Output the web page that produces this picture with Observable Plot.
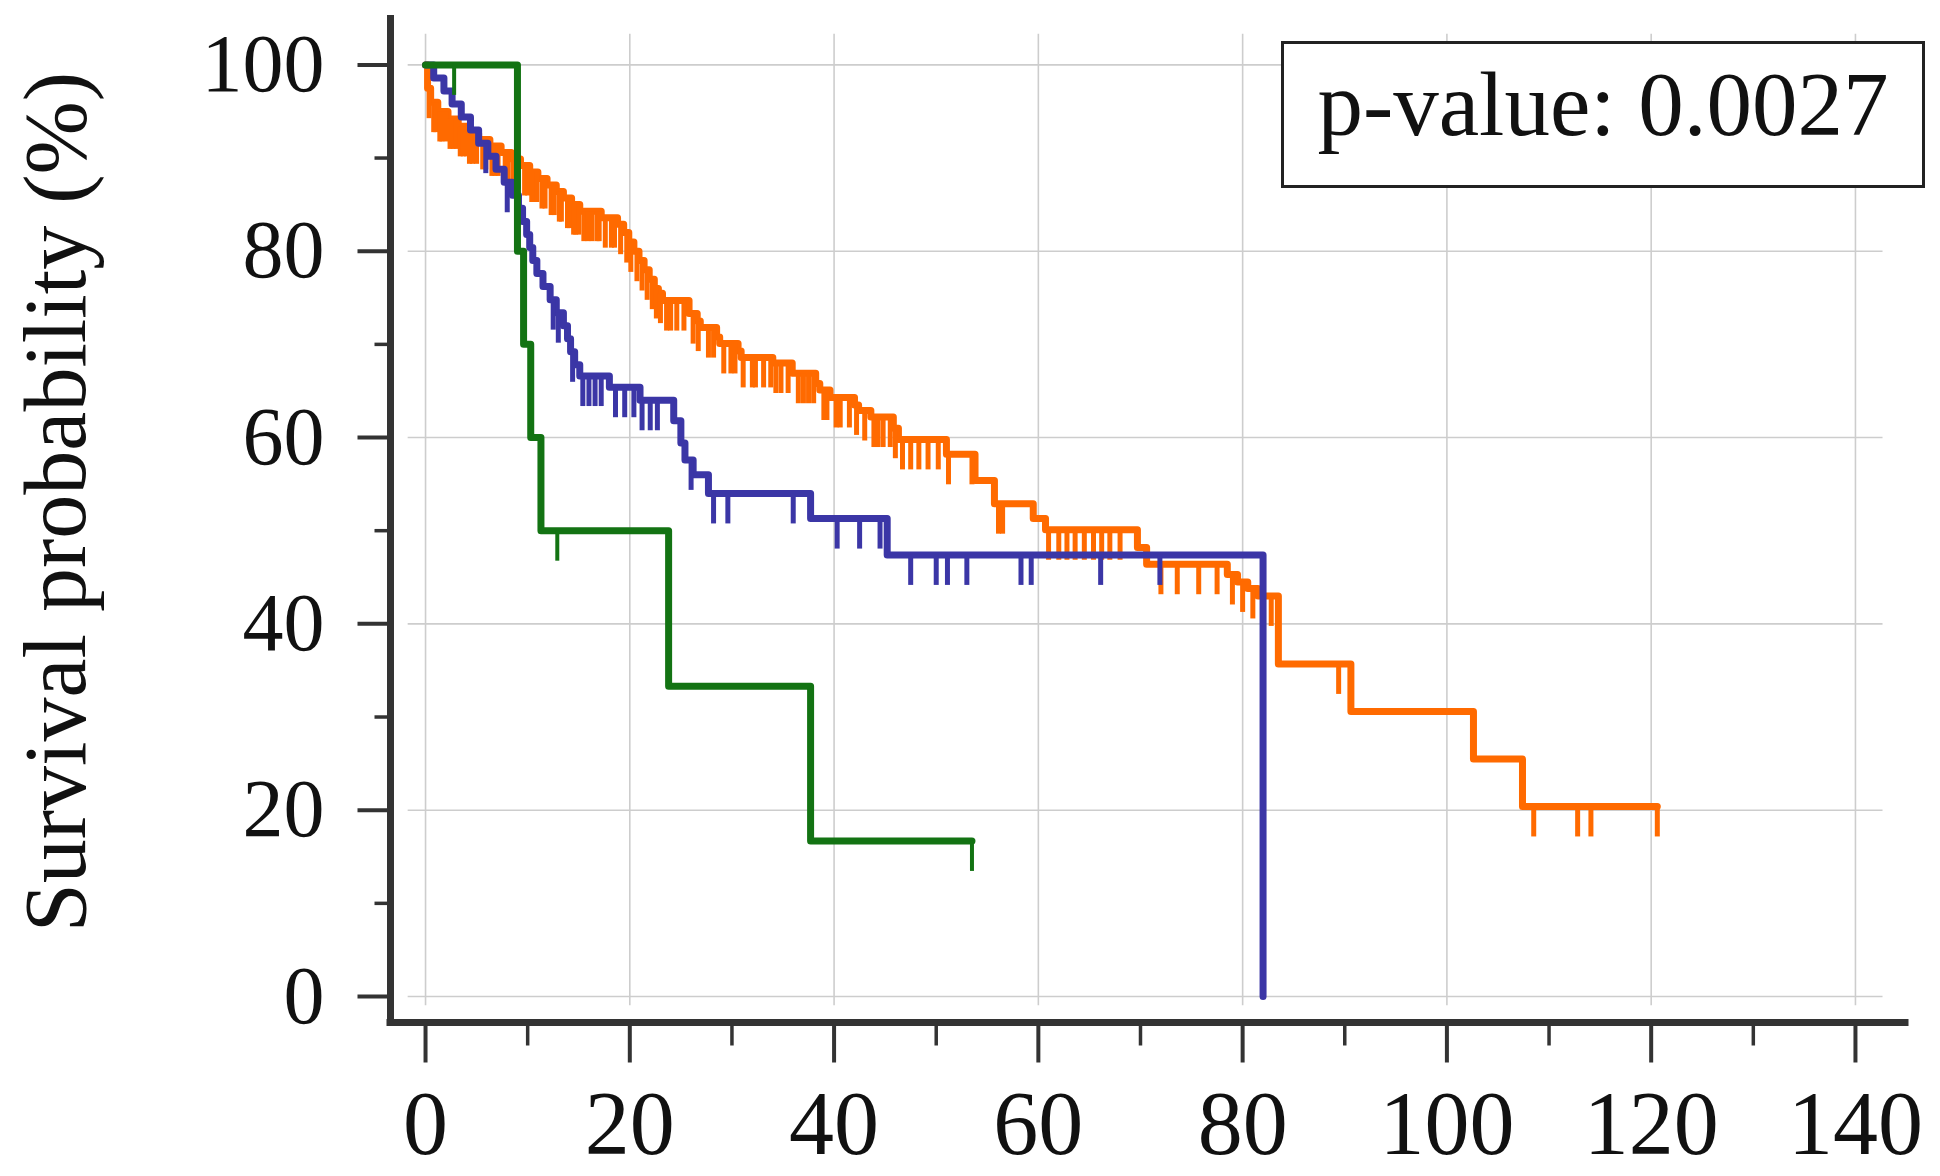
<!DOCTYPE html>
<html><head><meta charset="utf-8">
<script src="https://cdn.jsdelivr.net/npm/d3@7"></script>
<script src="https://cdn.jsdelivr.net/npm/@observablehq/plot@0.6"></script>
<style>
html,body{margin:0;padding:0;background:#fff;}
#wrap{position:relative;width:1940px;height:1176px;overflow:hidden;}
#wrap svg{position:absolute;left:0;top:0;}
#pbox{position:absolute;left:1281px;top:41px;width:644px;height:147px;box-sizing:border-box;border:3px solid #222;background:#fff;font-family:"Liberation Serif",serif;font-size:91px;line-height:90px;padding-top:16px;text-align:center;color:#111;white-space:nowrap;}
</style></head><body><div id="wrap"></div>
<script>
// ---- data ----
const xTicks = [0, 20, 40, 60, 80, 100, 120, 140];
const xMinorTicks = [10, 30, 50, 70, 90, 110, 130];
const yTicks = [0, 20, 40, 60, 80, 100];
const yMinorTicks = [10, 30, 50, 70, 90];
const yLabel = "Survival probability (%)";
const pValueText = "p-value: 0.0027";

// [time, survival %]
const orangeSteps = [[0,100],[0.2,97.5],[0.5,96.0],[1.2,95.0],[2.2,94.2],[3.2,93.4],[4.2,92.6],[5.2,92.0],[6.3,91.3],[7.4,90.6],[8.4,89.9],[9.3,89.2],[10.2,88.5],[11.0,87.8],[11.9,87.1],[12.8,86.4],[13.5,85.7],[14.3,85.0],[15.1,84.3],[17.2,83.6],[18.8,82.9],[19.4,82.0],[19.9,81.0],[20.4,80.0],[20.9,79.0],[21.4,78.0],[21.9,77.0],[22.4,76.0],[22.8,75.5],[23.2,74.7],[25.8,73.3],[26.6,72.5],[26.9,71.8],[28.5,70.8],[28.8,70.1],[30.6,69.3],[30.9,68.6],[34.0,68.0],[35.9,66.9],[38.2,65.8],[38.6,65.1],[39.6,64.3],[42.0,63.5],[42.4,62.9],[43.6,62.2],[45.8,61.0],[46.3,59.8],[51.0,58.2],[53.8,55.4],[55.7,52.9],[59.5,51.3],[60.7,50.1],[69.7,48.2],[70.6,46.4],[78.5,45.3],[79.5,44.5],[80.5,43.8],[81.5,43.0],[83.5,35.7],[90.6,30.6],[102.6,25.5],[107.4,20.4],[120.6,20.4]];
const orangeCensor = [[0.35,97.5],[0.8,96.0],[1.0,96.0],[1.4,95.0],[1.6,95.0],[2.0,95.0],[2.4,94.2],[2.7,94.2],[3.0,94.2],[3.4,93.4],[3.7,93.4],[4.0,93.4],[4.3,92.6],[4.6,92.6],[5.0,92.6],[5.6,92.0],[5.9,92.0],[6.5,91.3],[6.8,91.3],[7.1,91.3],[7.8,90.6],[8.1,90.6],[8.6,89.9],[8.8,89.9],[9.1,89.9],[9.7,89.2],[10.0,89.2],[10.4,88.5],[10.6,88.5],[10.9,88.5],[11.4,87.8],[11.7,87.8],[12.3,87.1],[12.6,87.1],[13.1,86.4],[13.3,86.4],[13.9,85.7],[14.1,85.7],[14.5,85.0],[14.7,85.0],[15.0,85.0],[15.5,84.3],[15.9,84.3],[16.3,84.3],[16.8,84.3],[17.0,84.3],[17.6,83.6],[18.2,83.6],[18.5,83.6],[19.1,82.9],[19.7,82.0],[20.1,81.0],[20.7,80.0],[21.2,79.0],[21.7,78.0],[22.2,77.0],[22.6,76.0],[23.0,75.5],[23.6,74.7],[24.0,74.7],[24.6,74.7],[25.3,74.7],[26.2,73.3],[26.7,72.5],[27.7,71.8],[28.2,71.8],[29.2,70.1],[29.9,70.1],[30.3,70.1],[31.1,68.6],[32.0,68.6],[32.3,68.6],[33.1,68.6],[33.8,68.6],[34.3,68.0],[34.8,68.0],[35.5,68.0],[36.5,66.9],[37.0,66.9],[37.5,66.9],[38.0,66.9],[39.0,65.1],[39.3,65.1],[40.2,64.3],[40.6,64.3],[41.5,64.3],[42.2,63.5],[43.0,62.9],[43.9,62.2],[44.3,62.2],[44.8,62.2],[45.5,62.2],[46.0,61.0],[46.7,59.8],[47.5,59.8],[48.3,59.8],[49.2,59.8],[50.2,59.8],[51.2,58.2],[53.5,58.2],[56.1,52.9],[56.5,52.9],[61.0,50.1],[62.0,50.1],[62.8,50.1],[63.6,50.1],[64.5,50.1],[65.4,50.1],[66.2,50.1],[67.0,50.1],[68.0,50.1],[72.0,46.4],[73.6,46.4],[75.7,46.4],[77.5,46.4],[79.0,45.3],[80.0,44.5],[81.0,43.8],[82.0,43.0],[82.8,43.0],[89.4,35.7],[108.5,20.4],[112.8,20.4],[114.1,20.4],[120.6,20.4]];

const blueSteps = [[0,100],[0.8,98.6],[1.8,97.2],[2.6,95.8],[3.5,94.4],[4.4,93.0],[5.2,91.6],[6.1,90.2],[6.9,88.8],[7.7,87.4],[8.5,86.0],[9.1,84.6],[9.5,83.2],[9.9,81.8],[10.2,80.4],[10.5,79.0],[10.9,77.6],[11.5,76.2],[12.2,74.8],[12.8,73.4],[13.5,72.0],[13.9,70.6],[14.2,69.2],[14.6,67.8],[15.1,66.6],[18.0,65.4],[21.0,64.0],[24.3,61.8],[25.0,59.4],[25.4,57.6],[26.2,56.0],[27.7,54.0],[37.7,51.3],[45.2,47.4],[82.0,0]];
const blueCensor = [[5.9,91.6],[8.0,87.4],[12.5,74.8],[13.0,73.4],[14.4,69.2],[15.4,66.6],[16.0,66.6],[16.6,66.6],[17.2,66.6],[18.6,65.4],[19.5,65.4],[20.4,65.4],[21.2,64.0],[22.0,64.0],[22.7,64.0],[26.0,57.6],[28.2,54.0],[29.6,54.0],[36.0,54.0],[40.3,51.3],[42.5,51.3],[44.5,51.3],[47.5,47.4],[50.0,47.4],[51.1,47.4],[53.0,47.4],[58.3,47.4],[59.3,47.4],[66.1,47.4],[71.9,47.4]];

const greenSteps = [[0,100],[9.0,80],[9.6,70],[10.3,60],[11.3,50],[23.8,33.3],[37.7,16.7],[53.5,16.7]];
const greenCensor = [[2.8,100],[12.9,50],[53.5,16.7]];

// ---- layout / style ----
const xDomain = [-3.43, 144.9];
const yDomain = [-2.79, 105.3];
const gridXExtent = [-1.7, 142.7];
const gridYExtent = [-1.0, 103.3];
const ORANGE = "#ff6a00", BLUE = "#3b36a6", GREEN = "#137313", AXIS = "#333333";
const FONT = "Liberation Serif, Times New Roman, serif";
const LINE_W = 7, TICK_W = 5;

function lineSymbol(dx, dy) {
  return {draw(ctx) { ctx.moveTo(0, 0); ctx.lineTo(dx, dy); }};
}
const censorTick = lineSymbol(0, 30);

const chart = Plot.plot({
  width: 1940,
  height: 1176,
  marginLeft: 390,
  marginRight: 35,
  marginTop: 15,
  marginBottom: 154,
  x: {domain: xDomain, axis: null},
  y: {domain: yDomain, axis: null},
  style: {background: "white", overflow: "visible"},
  marks: [
    Plot.ruleX(xTicks, {x: d => d, y1: gridYExtent[0], y2: gridYExtent[1], stroke: "#cdcdcd", strokeWidth: 1.6}),
    Plot.ruleY(yTicks, {y: d => d, x1: gridXExtent[0], x2: gridXExtent[1], stroke: "#cdcdcd", strokeWidth: 1.6}),
    // orange
    Plot.line(orangeSteps, {x: d => d[0], y: d => d[1], curve: "step-after", stroke: ORANGE, strokeWidth: LINE_W}),
    Plot.dot(orangeCensor, {x: d => d[0], y: d => d[1], r: 1, symbol: censorTick, stroke: ORANGE, fill: "none", strokeWidth: TICK_W}),
    // blue
    Plot.line(blueSteps, {x: d => d[0], y: d => d[1], curve: "step-after", stroke: BLUE, strokeWidth: LINE_W}),
    Plot.dot(blueCensor, {x: d => d[0], y: d => d[1], r: 1, symbol: censorTick, stroke: BLUE, fill: "none", strokeWidth: TICK_W}),
    // green
    Plot.line(greenSteps, {x: d => d[0], y: d => d[1], curve: "step-after", stroke: GREEN, strokeWidth: LINE_W}),
    Plot.dot(greenCensor, {x: d => d[0], y: d => d[1], r: 1, symbol: censorTick, stroke: GREEN, fill: "none", strokeWidth: 4}),
    // axes
    Plot.dot(xTicks, {x: d => d, frameAnchor: "bottom", r: 1, symbol: lineSymbol(0, 40), stroke: AXIS, fill: "none", strokeWidth: 4}),
    Plot.dot(xMinorTicks, {x: d => d, frameAnchor: "bottom", r: 1, symbol: lineSymbol(0, 23), stroke: AXIS, fill: "none", strokeWidth: 3.5}),
    Plot.dot(yTicks, {y: d => d, frameAnchor: "left", r: 1, symbol: lineSymbol(-33, 0), stroke: AXIS, fill: "none", strokeWidth: 4}),
    Plot.dot(yMinorTicks, {y: d => d, frameAnchor: "left", r: 1, symbol: lineSymbol(-16, 0), stroke: AXIS, fill: "none", strokeWidth: 3.5}),
    Plot.ruleX([xDomain[0]], {stroke: AXIS, strokeWidth: 7}),
    Plot.ruleY([yDomain[0]], {stroke: AXIS, strokeWidth: 7, strokeLinecap: "square"}),
    Plot.text(xTicks, {x: d => d, frameAnchor: "bottom", dy: 131, text: d => String(d), fontSize: 90, fontFamily: FONT, fill: "#111", ariaLabel: "xlab"}),
    Plot.text(yTicks, {y: d => d, frameAnchor: "left", dx: -66, textAnchor: "end", text: d => String(d), fontSize: 82, fontFamily: FONT, fill: "#111"}),
    Plot.text([yLabel], {frameAnchor: "left", dx: -334, dy: -17, rotate: -90, textAnchor: "middle", text: d => d, fontSize: 88, fontFamily: FONT, fill: "#111", ariaLabel: "ylab"})
  ]
});

// condense x tick labels horizontally like the reference
chart.querySelectorAll('g[aria-label="xlab"] text').forEach(t => {
  const tr = t.getAttribute("transform");
  if (tr) t.setAttribute("transform", tr + " scale(0.72,1)");
  else {
    const x = t.getAttribute("x") || 0, y = t.getAttribute("y") || 0;
    t.removeAttribute("x"); t.removeAttribute("y");
    t.setAttribute("transform", `translate(${x},${y}) scale(0.72,1)`);
  }
});

const wrap = document.getElementById("wrap");
wrap.appendChild(chart);
const box = document.createElement("div");
box.id = "pbox";
box.textContent = pValueText;
wrap.appendChild(box);
</script>
</body></html>
